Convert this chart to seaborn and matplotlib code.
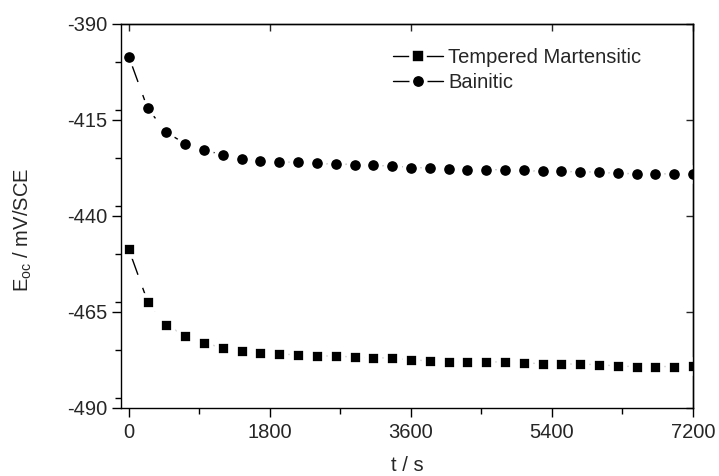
import numpy as np
import pandas as pd
import matplotlib
matplotlib.use("Agg")
import matplotlib.pyplot as plt
from matplotlib.lines import Line2D
from matplotlib.ticker import MultipleLocator
import seaborn as sns

# ---- data ----
time_s = [0, 240, 480, 720, 960, 1200, 1440, 1680, 1920, 2160, 2400, 2640, 2880, 3120,
          3360, 3600, 3840, 4080, 4320, 4560, 4800, 5040, 5280, 5520, 5760, 6000,
          6240, 6480, 6720, 6960, 7200]
tempered_martensitic = [-448.7, -462.3, -468.4, -471.2, -473.1, -474.3, -475.2, -475.8,
                        -476.0, -476.1, -476.4, -476.5, -476.7, -476.9, -477.0, -477.5,
                        -477.7, -477.9, -478.0, -478.0, -478.0, -478.2, -478.5, -478.5,
                        -478.6, -478.7, -479.1, -479.2, -479.2, -479.2, -479.1]
bainitic = [-398.5, -412.0, -418.2, -421.2, -422.8, -424.1, -425.1, -425.7, -426.0,
            -426.0, -426.3, -426.5, -426.6, -426.8, -427.0, -427.4, -427.5, -427.8,
            -427.9, -427.9, -428.0, -428.1, -428.4, -428.4, -428.5, -428.6, -428.9,
            -429.0, -429.0, -429.1, -429.0]
series_names = ["Tempered Martensitic", "Bainitic"]
x_ticks = [0, 1800, 3600, 5400, 7200]
y_ticks = [-490, -465, -440, -415, -390]

sns.set_style("ticks")
plt.rcParams["font.family"] = ["Liberation Sans", "DejaVu Sans"]
plt.rcParams["mathtext.fontset"] = "custom"
plt.rcParams["mathtext.rm"] = "Liberation Sans"
plt.rcParams["axes.unicode_minus"] = False
FS = 14.5

fig = plt.figure(figsize=(7.19, 4.76), dpi=100)
ax = fig.add_axes([121 / 719, 1 - 408 / 476, 572 / 719, 384 / 476])

dash = (0, (19.4, 10))
sns.lineplot(x=time_s, y=tempered_martensitic, ax=ax, color="black", lw=1.0,
             linestyle=dash, marker="s", markersize=10.1, markeredgewidth=3.4,
             markerfacecolor="black", markeredgecolor="white", legend=False)
sns.lineplot(x=time_s, y=bainitic, ax=ax, color="black", lw=1.0,
             linestyle=dash, marker="o", markersize=10.6, markeredgewidth=2.9,
             markerfacecolor="black", markeredgecolor="white", legend=False)

ax.set_xlim(-100, 7200)
ax.set_ylim(-490, -390)
ax.set_xticks(x_ticks)
ax.set_yticks(y_ticks)
ax.xaxis.set_minor_locator(MultipleLocator(900))
ax.yaxis.set_minor_locator(MultipleLocator(12.5))
ax.tick_params(axis="both", which="major", direction="out", length=6.5, width=1,
               labelsize=FS, color="black")
ax.tick_params(axis="both", which="minor", direction="out", length=4, width=1,
               color="black")
ax.tick_params(axis="x", which="major", pad=4.5)
ax.tick_params(axis="y", which="major", pad=3.5)

for sp in ax.spines.values():
    sp.set_visible(True)
    sp.set_linewidth(1)
    sp.set_color("black")
    sp.set_zorder(5)

top = ax.secondary_xaxis("top")
top.set_xticks(x_ticks)
top.tick_params(direction="in", length=5, width=1, labeltop=False)
top.spines["top"].set_linewidth(1)
right = ax.secondary_yaxis("right")
right.set_yticks(y_ticks)
right.tick_params(direction="in", length=5, width=1, labelright=False)
right.spines["right"].set_linewidth(1)

ax.set_xlabel("t / s", fontsize=FS)
ax.set_ylabel(r"E$_{\mathregular{oc}}$ / mV/SCE", fontsize=FS)
ax.xaxis.set_label_coords(0.5, -0.125)
ax.yaxis.set_label_coords(-0.152, 0.4635)

handles = [
    Line2D([], [], color="black", lw=1, marker="s", markersize=10.0,
           markerfacecolor="black", markeredgecolor="white", markeredgewidth=2.6),
    Line2D([], [], color="black", lw=1, marker="o", markersize=10.4,
           markerfacecolor="black", markeredgecolor="white", markeredgewidth=2.6),
]
ax.legend(handles, series_names, loc="upper left", bbox_to_anchor=(0.476, 0.938),
          frameon=False, fontsize=FS, borderpad=0, borderaxespad=0,
          handlelength=2.48, handletextpad=0.25, labelspacing=0.33)

fig.savefig("out.png", dpi=100)
